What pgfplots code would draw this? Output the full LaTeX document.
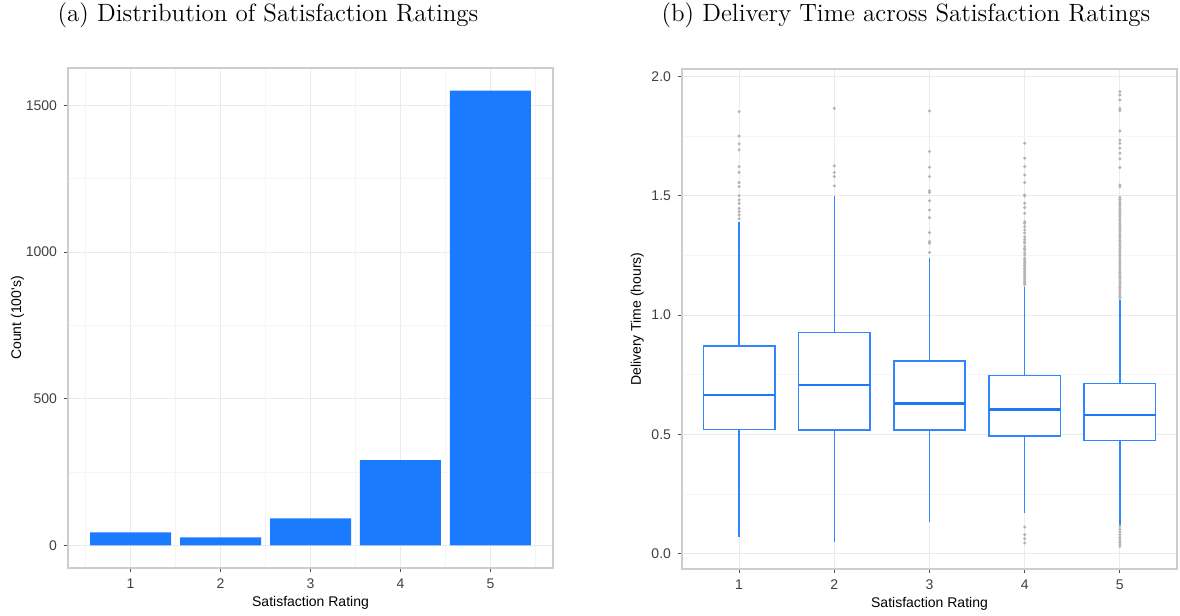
\documentclass[border=0pt]{standalone}
\usepackage{fontspec}
\usepackage{pgfplots}
\pgfplotsset{compat=1.18}
\usepgfplotslibrary{statistics}
\newfontfamily\lsans{Liberation Sans}
\definecolor{barblue}{RGB}{27,123,255}
\definecolor{boxblue}{RGB}{51,133,255}
\definecolor{medblue}{RGB}{30,120,245}
\definecolor{outgray}{RGB}{180,180,180}
\definecolor{gridmaj}{RGB}{235,235,235}
\definecolor{gridmin}{RGB}{245,245,245}
\definecolor{frame}{RGB}{205,205,205}
\definecolor{tickgray}{RGB}{80,80,80}
\pgfplotsset{
  ggstyle/.style={
    scale only axis,
    axis line style={frame, line width=0.7pt},
    tick align=outside,
    xtick pos=left, ytick pos=left,
    major tick length=2pt, minor tick length=0pt,
    tick style={tickgray, line width=0.5pt},
    grid=both,
    major grid style={gridmaj, line width=0.5pt},
    minor grid style={gridmin, line width=0.4pt},
    ticklabel style={font=\lsans\fontsize{7}{8}\selectfont, text=black!75},
    label style={font=\lsans\fontsize{7}{8}\selectfont, text=black},
    /pgf/number format/assume math mode=true,
    /pgf/number format/1000 sep={},
    xlabel style={yshift=3pt},
    ylabel style={yshift=-3pt},
  },
  outl/.style={outgray, mark=*, mark size=0.55pt, mark options={draw=none, fill=outgray}},
}
\begin{document}
\begin{tikzpicture}
\path[use as bounding box] (0pt,0pt) rectangle (590pt,308pt);
\node[font=\fontsize{12.5}{14}\selectfont] at (134pt,300.5pt) {(a) Distribution of Satisfaction Ratings};
\node[font=\fontsize{12.5}{14}\selectfont] at (453pt,300.5pt) {(b) Delivery Time across Satisfaction Ratings};
\begin{axis}[ggstyle,
  at={(34pt,24pt)}, anchor=south west,
  width=242.5pt, height=250pt,
  xmin=0.305, xmax=5.695, ymin=-77.5, ymax=1627.5,
  xtick={1,2,3,4,5},
  minor xtick={0.5,1.5,2.5,3.5,4.5,5.5},
  ytick={0,500,1000,1500},
  minor ytick={250,750,1250},
  xlabel={Satisfaction Rating},
  ylabel={Count (100's)},
  ylabel style={yshift=-3pt},
]
\addplot[ybar, bar width=0.9, fill=barblue, draw=none] coordinates {
(1,44) (2,27) (3,92) (4,290) (5,1550)
};
\end{axis}
\begin{axis}[ggstyle,
  at={(341pt,23.5pt)}, anchor=south west,
  width=247.5pt, height=250pt,
  xmin=0.4, xmax=5.6, ymin=-0.064, ymax=2.032,
  xtick={1,2,3,4,5},
  ytick={0,0.5,1,1.5,2},
  minor ytick={0.25,0.75,1.25,1.75},
  yticklabel style={/pgf/number format/fixed, /pgf/number format/fixed zerofill, /pgf/number format/precision=1},
  xlabel={Satisfaction Rating},
  ylabel={Delivery Time (hours)},
  boxplot/draw direction=y,
  boxplot/box extend=0.75,
  boxplot/whisker extend=0,
  boxplot/every box/.style={draw=boxblue, fill=white, line width=0.7pt},
  boxplot/every whisker/.style={draw=boxblue, line width=0.65pt},
  boxplot/every median/.style={draw=medblue, line width=1.3pt},
]
\addplot[outl, boxplot prepared={draw position=1, lower whisker=0.070, lower quartile=0.521, median=0.665, upper quartile=0.871, upper whisker=1.39}] coordinates {
(1,1.853) (1,1.751) (1,1.718) (1,1.693) (1,1.623) (1,1.599) (1,1.556) (1,1.539) (1,1.501) (1,1.483) (1,1.469) (1,1.448) (1,1.434) (1,1.420) (1,1.405)
};
\addplot[outl, boxplot prepared={draw position=2, lower whisker=0.048, lower quartile=0.518, median=0.707, upper quartile=0.927, upper whisker=1.50}] coordinates {
(2,1.867) (2,1.626) (2,1.598) (2,1.581) (2,1.542)
};
\addplot[outl, boxplot prepared={draw position=3, lower whisker=0.132, lower quartile=0.518, median=0.630, upper quartile=0.808, upper whisker=1.24}] coordinates {
(3,1.856) (3,1.686) (3,1.620) (3,1.581) (3,1.521) (3,1.514) (3,1.480) (3,1.441) (3,1.409) (3,1.346) (3,1.309) (3,1.302) (3,1.263)
};
\addplot[outl, boxplot prepared={draw position=4, lower whisker=0.171, lower quartile=0.493, median=0.605, upper quartile=0.748, upper whisker=1.12}] coordinates {
(4,1.721) (4,1.658) (4,1.623) (4,1.588) (4,1.556) (4,1.504) (4,1.500) (4,1.469) (4,1.451) (4,1.427) (4,1.392) (4,1.385) (4,1.371) (4,1.357) (4,1.345) (4,1.329) (4,1.318) (4,1.309) (4,1.302) (4,1.288) (4,1.280) (4,1.274) (4,1.262) (4,1.253) (4,1.240) (4,1.232) (4,1.225) (4,1.218) (4,1.210) (4,1.204) (4,1.196) (4,1.190) (4,1.183) (4,1.176) (4,1.169) (4,1.162) (4,1.155) (4,1.148) (4,1.141) (4,1.134) (4,1.127)
(4,0.112) (4,0.080) (4,0.063) (4,0.045)
};
\addplot[outl, boxplot prepared={draw position=5, lower whisker=0.119, lower quartile=0.475, median=0.581, upper quartile=0.713, upper whisker=1.064}] coordinates {
(5,1.937) (5,1.923) (5,1.902) (5,1.867) (5,1.858) (5,1.772) (5,1.734) (5,1.720) (5,1.700) (5,1.679) (5,1.655) (5,1.619) (5,1.546) (5,1.539) (5,1.494)
(5,1.485) (5,1.476) (5,1.467) (5,1.458) (5,1.449) (5,1.440) (5,1.431) (5,1.422) (5,1.413) (5,1.404) (5,1.395) (5,1.386) (5,1.377) (5,1.368) (5,1.359) (5,1.350) (5,1.341) (5,1.332) (5,1.323) (5,1.314) (5,1.305) (5,1.296) (5,1.287) (5,1.278) (5,1.269) (5,1.260) (5,1.251) (5,1.242) (5,1.233) (5,1.224) (5,1.215) (5,1.206) (5,1.197) (5,1.188) (5,1.179) (5,1.170) (5,1.161) (5,1.152) (5,1.143) (5,1.134) (5,1.125) (5,1.116) (5,1.107) (5,1.098) (5,1.089) (5,1.080) (5,1.071)
(5,0.115) (5,0.103) (5,0.092) (5,0.080) (5,0.068) (5,0.058) (5,0.048) (5,0.040) (5,0.031)
};
\end{axis}
\end{tikzpicture}
\end{document}
